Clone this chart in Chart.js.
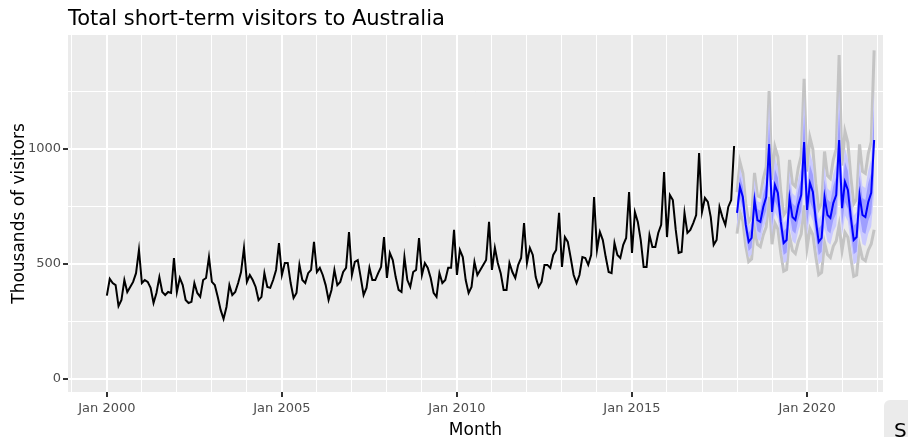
<!DOCTYPE html>
<html><head><meta charset="utf-8">
<script src="https://cdn.jsdelivr.net/npm/chart.js@4"></script>
<style>html,body{margin:0;padding:0;background:#fff}#wrap{width:908px;height:437px}</style>
</head><body><div id="wrap"><canvas id="c" width="908" height="437"></canvas></div>
<script>
const startYear = 2000;
const visitors = [
362,435,417,408,317,343,430,378,400,422,460,561,
417,430,422,396,330,374,443,378,365,378,374,526,
378,439,408,343,330,335,417,374,357,430,439,530,
422,408,357,300,261,313,408,365,378,417,465,570,
422,452,430,400,343,357,460,400,396,430,474,591,
452,504,504,417,352,374,496,430,417,460,474,596,
465,483,452,408,343,387,474,408,422,465,483,639,
452,509,517,443,365,396,483,430,430,460,487,617,
439,548,517,443,387,378,530,430,400,465,474,613,
452,504,483,439,374,357,460,417,430,483,483,648,
452,561,530,430,374,400,509,452,474,496,517,683,
474,570,504,460,387,387,504,465,439,496,526,678,
504,570,539,443,400,422,496,496,483,539,561,722,
487,617,596,526,452,417,452,530,526,496,539,791,
561,639,604,530,465,460,591,539,526,583,613,813,
548,726,683,604,487,487,626,574,574,635,670,900,
617,800,778,648,548,552,722,635,648,678,713,983,
726,787,770,704,583,604,748,704,670,748,778,1013
];
const fcStartYear = 2018;
const forecast = [
722,835,791,670,596,613,778,691,683,748,791,1022,
726,843,809,683,591,604,787,704,691,757,800,1030,
735,852,813,691,596,613,791,713,700,765,800,1039,
743,857,822,704,604,617,800,713,704,770,809,1039
];
const hw80 = [
40,48,46,42,40,42,52,48,48,54,58,95,
60,70,66,56,52,54,68,60,60,66,70,120,
68,80,76,64,58,60,78,68,68,74,80,135,
74,88,82,70,62,64,86,74,74,82,88,145
];
const hw95 = [
70,84,80,72,68,72,90,82,84,94,100,180,
100,118,112,96,88,92,118,104,104,114,120,200,
112,134,126,108,98,102,134,116,116,126,134,220,
120,146,136,118,106,110,146,126,126,138,146,230
];
const greyExtra = [
20,25,24,20,18,20,28,24,24,28,30,50,
40,48,45,38,34,36,48,42,42,46,50,75,
55,64,60,50,45,48,64,56,56,62,66,150,
65,74,70,58,52,55,74,64,64,72,76,160
];
const xTicks = [2000,2005,2010,2015,2020];

const hist = visitors.map((v,i)=>({x:startYear+i/12,y:v}));
const fx = i=>fcStartYear+i/12;
const fc = forecast.map((v,i)=>({x:fx(i),y:v}));
const band = (arr,s)=>forecast.map((v,i)=>({x:fx(i),y:v+s*arr[i]}));
const grey = s=>forecast.map((v,i)=>({x:fx(i),y:v+s*(hw95[i]+greyExtra[i])}));

const panelBg = {id:'panelBg',beforeDraw(ch){const a=ch.chartArea,c=ch.ctx;c.save();c.fillStyle='#EBEBEB';c.fillRect(a.left,a.top,a.right-a.left,a.bottom-a.top);c.restore();},
afterDraw(ch){const c=ch.ctx,a=ch.chartArea;c.save();c.fillStyle='#000';
c.font='21px "DejaVu Sans"';c.textBaseline='alphabetic';c.fillText('Total short-term visitors to Australia',68,25);
c.font='17px "DejaVu Sans"';c.textAlign='center';c.fillText('Month',(a.left+a.right)/2,435);
c.translate(24,(a.top+a.bottom)/2);c.rotate(-Math.PI/2);c.fillText('Thousands of visitors',0,0);c.restore();
c.save();c.fillStyle='#EBEBEB';c.beginPath();c.roundRect(884,400,40,50,6);c.fill();c.fillStyle='#000';c.font='20px "DejaVu Sans"';c.fillText('S',894,437);c.restore();}};

const ds = (data,o)=>Object.assign({data,pointRadius:0,borderWidth:0,tension:0},o);
new Chart(document.getElementById('c'),{
type:'line',
data:{datasets:[
ds(grey(1),{borderColor:'#C4C4C4',borderWidth:3,fill:false,order:5}),
ds(grey(-1),{borderColor:'#C4C4C4',borderWidth:3,fill:false,order:5}),
ds(band(hw95,1),{backgroundColor:'#CACAFF',fill:'+1',order:4}),
ds(band(hw95,-1),{fill:false,order:4}),
ds(band(hw80,1),{backgroundColor:'#9E9EFF',fill:'+1',order:3}),
ds(band(hw80,-1),{fill:false,order:3}),
ds(hist,{borderColor:'#000',borderWidth:2,fill:false,order:1}),
ds(fc,{borderColor:'#0000ff',borderWidth:2,fill:false,order:0})
]},
options:{responsive:false,animation:false,
layout:{padding:{top:35,right:25,left:0,bottom:0}},
plugins:{legend:{display:false},tooltip:{enabled:false}},
scales:{
x:{type:'linear',min:1998.89,max:2022.17,
afterBuildTicks(s){const t=[];for(let y=1999;y<=2022;y++)t.push({value:y});s.ticks=t;},
afterFit(s){s.height=45;},
ticks:{maxRotation:0,autoSkip:false,color:'#4D4D4D',font:{size:13,family:'DejaVu Sans'},padding:4,
callback:v=>xTicks.includes(v)?'Jan '+v:''},
grid:{color:'#fff',lineWidth:c=>c.tick&&xTicks.includes(c.tick.value)?2:1,tickLength:5,
tickColor:c=>c.tick&&xTicks.includes(c.tick.value)?'#333':'rgba(0,0,0,0)'},border:{display:false}},
y:{min:-57,max:1496,
afterBuildTicks(s){s.ticks=[0,250,500,750,1000,1250].map(v=>({value:v}));},
afterFit(s){s.width=68;},
ticks:{color:'#4D4D4D',font:{size:13,family:'DejaVu Sans'},padding:2,callback:v=>v%500===0?String(v):''},
grid:{color:'#fff',lineWidth:c=>c.tick&&c.tick.value%500===0?2:1,tickLength:5,
tickColor:c=>c.tick&&c.tick.value%500===0?'#333':'rgba(0,0,0,0)'},border:{display:false}}
}},
plugins:[panelBg]
});
</script></body></html>
